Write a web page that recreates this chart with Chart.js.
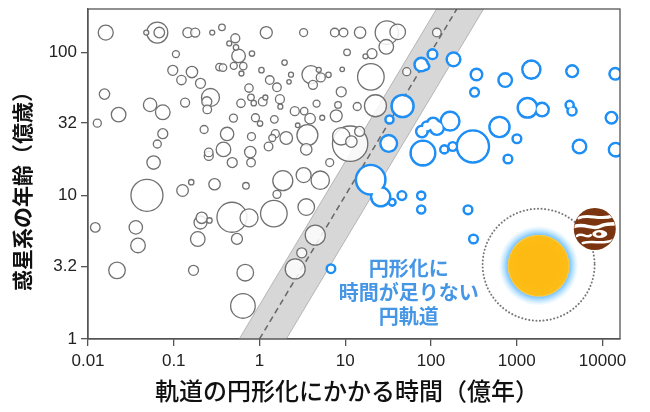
<!DOCTYPE html>
<html><head><meta charset="utf-8">
<script src="https://cdn.jsdelivr.net/npm/chart.js@4"></script>
<style>html,body{margin:0;padding:0;background:#fff}</style>
</head><body>
<canvas id="c" width="650" height="412"></canvas>
<script>
// ---------- data ----------
const xTickValues = [0.01, 0.1, 1, 10, 100, 1000, 10000];
const xTickLabels = ['0.01', '0.1', '1', '10', '100', '1000', '10000'];
const yTickValues = [1, 3.2, 10, 32, 100];
const yTickLabels = ['1', '3.2', '10', '32', '100'];

// gray: systems already circularised (timescale [億年], age [億歳], marker size)
const grayTime = [0.0161,0.0478,0.0643,0.0678,0.146,0.178,0.281,0.365,0.522,0.444,0.532,0.570,0.817,0.106,0.0974,0.163,0.123,0.205,0.341,0.375,
  0.501,0.647,0.616,1.054,1.317,0.01557,0.02275,0.01284,0.0530,0.0745,0.1356,0.268,0.243,0.246,0.754,0.795,0.608,0.857,1.09,0.497,
  0.897,1.015,0.226,0.419,0.806,0.0745,0.0643,0.380,0.256,0.256,0.780,0.0582,0.481,0.797,1.275,1.598,1.96,2.33,2.21,3.98,
  5.18,4.91,4.20,1.73,1.75,1.17,2.58,3.32,4.63,3.89,5.39,1.49,2.79,1.53,1.41,2.05,3.62,3.51,1.20,3.27,
  7.54,9.55,14.9,30.6,40.9,30.1,10.5,20.5,17.2,117,52.1,6.38,9.22,19.9,8.98,8.24,13.8,22.5,7.85,8.98,
  14.7,11.4,11.8,6.59,0.0487,0.1267,0.160,0.299,0.695,1.598,1.87,3.27,5.11,0.01216,0.0361,0.0383,0.0218,0.212,0.205,0.261,
  0.1906,0.170,0.477,0.755,1.47,3.51,0.546,0.682,0.641,4.47,3.11,2.61];
const grayAge = [137,137,137,137,137,137,137,149,125,115,108,94.2,97.8,97,74.7,72.7,63.9,60.6,78.7,78,
  80.3,79.9,71,74.9,63.9,51,36.7,32,42.9,38.1,44.5,48.3,45.1,39.9,56.2,48.4,44,44.1,45.2,34.7,
  34.9,31.8,28.9,26.9,25.8,27,22.9,21,20,18.9,20.1,17,17,17,22,56.9,84.6,69.7,62.1,69.8,
  66.7,75.3,59.2,47,41.7,48.3,38.8,38.8,43.8,34.4,34.9,34,30.9,27,25.2,25.2,26.4,21,137,137,
  137,137,137,137,138.5,109,99.7,97.6,93.5,137,73.1,69.5,75.9,67.3,52.9,42.9,41.8,42.3,36,25.9,
  28,23,23.8,17,10.05,10.85,12.4,12,11.7,10.2,12.7,13.9,12.8,6.0,6.0,4.49,3.01,7.0,6.49,6.71,
  4.98,3.01,7.06,7.0,7.49,8.32,4.99,2.90,1.70,5.30,3.99,3.08];
const graySize = [7.5,2.5,10.5,5.3,5,4.5,2.5,3.3,4.5,2.5,2.7,6.8,2.7,3.5,5,5.7,4.7,5,3.7,3.7,
  3.5,3.7,2.5,2.7,4.3,5.2,7.3,4,6.7,7.3,4.5,9,5,4.3,4.2,3.3,4.2,2.7,4.3,4,
  4,2.7,4,6.7,4,5,4,7.3,4.3,4.5,5.7,6.7,5,4.3,4.3,4.3,2.7,2.5,2.2,9,
  4.5,2.5,4.5,4.5,2.5,2.5,4.5,3.7,3.5,5.3,2.5,3.8,2.3,4,3.5,6.3,10.5,5.7,6,4,
  4.3,4.3,5.7,11.7,7.8,7.3,3.3,5,2.5,4.3,4,2.7,2.3,13.3,5,3.3,4,11,6,8.7,
  5,17.7,5.7,4,16,5.8,2.7,5.7,3.3,4,10,7.5,9.2,4.8,6.7,7.3,8.3,5.7,6.5,2.7,
  7.3,5,15,9,13.3,8.3,5.5,8.3,12.3,10,5,10];

// blue: circular orbits that have not had time to circularise
const blueTime = [104,76.9,86.8,183,339,733,1480,4430,14060,322,46.6,32.8,32.1,1335,1970,4140,4410,12730,167,117,
  106,89.6,78.4,629,1004,308,179,143,789,5390,14250,80.5,19.8,25.9,35.3,45.8,76.9,76.9,270,313,6.81];
const blueAge = [96.8,81.9,79.6,89.1,69.8,63.9,75.6,73.7,70.6,52.6,42.1,33.9,23.1,40.9,39.8,42.9,38.9,34.9,33.0,29.7,
  31.4,30.3,28,30.1,24.9,22,22,21,18,22,20.9,19.8,12.9,9.81,8.98,10,10,8.0,7.96,4.98,3.09];
const blueSize = [4.8,6.7,3.5,6.8,5.7,6.7,9,5.8,5.7,4.3,11,4,8.3,9.7,6.7,4,4.5,5.7,9.3,7,
  6.5,5,5.7,10,4.3,16,4.3,4,4.3,6.7,6.7,12.3,14.7,9.5,3.3,4.3,4,4,4.3,4.3,4.2];

// age = timescale line and the uncertainty band around it
const diagTime = [1, 200];
const diagAge = [1, 200];
const bandTime = [0.58, 116, 410, 2.05];
const bandAge = [1, 200, 200, 1];

const xTitle = '軌道の円形化にかかる時間（億年）';
const yTitle = '惑星系の年齢（億歳）';
const noteLines = ['円形化に', '時間が足りない', '円軌道'];

// ---------- build ----------
const RING = 2.6;
const xy = (xs, ys) => xs.map((x, i) => ({ x, y: ys[i] }));
const grayOrder = grayTime.map((_, i) => i).sort((a, b) => graySize[b] - graySize[a]);
const grayPts = grayOrder.map(i => ({ x: grayTime[i], y: grayAge[i], r: graySize[i] }));
const blueRing = blueTime.map((x, i) => ({ x, y: blueAge[i], r: blueSize[i] }));
const blueFill = blueTime.map((x, i) => ({ x, y: blueAge[i], r: blueSize[i] - RING / 2 }));

const frame = {
  id: 'frame',
  afterDatasetsDraw(chart) {
    const { ctx, chartArea: a } = chart;
    ctx.save();
    ctx.strokeStyle = '#555';
    ctx.lineWidth = 1.3;
    ctx.strokeRect(a.left, a.top, a.right - a.left, a.bottom - a.top);
    ctx.restore();
  }
};

const decor = {
  id: 'decor',
  afterDatasetsDraw(chart) {
    const { ctx, chartArea: a } = chart;
    const w = a.right - a.left, h = a.bottom - a.top;
    ctx.save();
    // note
    ctx.fillStyle = '#4696e6';
    ctx.font = 'bold 20px "Noto Sans CJK JP", sans-serif';
    ctx.textAlign = 'center';
    ctx.textBaseline = 'middle';
    const nx = a.left + 0.603 * w, ny = a.top + 0.786 * h;
    noteLines.forEach((t, i) => ctx.fillText(t, nx, ny + i * 24));
    // orbit
    const sx = a.left + 0.847 * w, sy = a.top + 0.775 * h;
    ctx.setLineDash([0.1, 3.5]);
    ctx.lineCap = 'round';
    ctx.lineWidth = 2;
    ctx.strokeStyle = '#777';
    ctx.beginPath(); ctx.arc(sx, sy, 56, 0, Math.PI * 2); ctx.stroke();
    ctx.setLineDash([]);
    // sun glow
    const g = ctx.createRadialGradient(sx, sy + 1, 28, sx, sy + 1, 40);
    g.addColorStop(0, 'rgba(40,160,255,0.95)');
    g.addColorStop(0.45, 'rgba(90,185,255,0.55)');
    g.addColorStop(1, 'rgba(150,215,255,0)');
    ctx.fillStyle = g;
    ctx.beginPath(); ctx.arc(sx, sy + 1, 40, 0, Math.PI * 2); ctx.fill();
    const sg = ctx.createRadialGradient(sx, sy + 1, 20, sx, sy + 1, 31);
    sg.addColorStop(0, '#FDBA12');
    sg.addColorStop(0.85, '#FDBD18');
    sg.addColorStop(1, '#FFD35A');
    ctx.fillStyle = sg;
    ctx.beginPath(); ctx.arc(sx, sy + 1, 31, 0, Math.PI * 2); ctx.fill();
    // planet
    const px = a.left + 0.9526 * w, py = a.top + 0.6667 * h, pr = 21;
    ctx.fillStyle = '#7a3410';
    ctx.beginPath(); ctx.arc(px, py, pr, 0, Math.PI * 2); ctx.fill();
    ctx.save();
    ctx.beginPath(); ctx.arc(px, py, pr - 0.5, 0, Math.PI * 2); ctx.clip();
    ctx.strokeStyle = '#fff';
    ctx.lineCap = 'round';
    ctx.lineWidth = 3;
    ctx.beginPath(); ctx.moveTo(px - 16, py - 11); ctx.bezierCurveTo(px - 6, py - 16, px + 4, py - 8, px + 18, py - 13); ctx.stroke();
    ctx.lineWidth = 3.5;
    ctx.beginPath(); ctx.moveTo(px - 22, py - 2); ctx.bezierCurveTo(px - 10, py - 7, px - 2, py + 2, px + 6, py - 3); ctx.bezierCurveTo(px + 12, py - 6, px + 18, py - 4, px + 22, py - 6); ctx.stroke();
    ctx.lineWidth = 2.5;
    ctx.beginPath(); ctx.moveTo(px - 18, py + 7); ctx.bezierCurveTo(px - 12, py + 3, px - 8, py + 10, px - 4, py + 6); ctx.stroke();
    ctx.beginPath(); ctx.moveTo(px - 12, py + 14); ctx.bezierCurveTo(px - 2, py + 11, px + 8, py + 16, px + 18, py + 11); ctx.stroke();
    ctx.fillStyle = '#fff';
    ctx.beginPath(); ctx.ellipse(px + 5, py + 5, 7.5, 4, 0, 0, Math.PI * 2); ctx.fill();
    ctx.fillStyle = '#7a3410';
    ctx.beginPath(); ctx.ellipse(px + 4, py + 5, 2.8, 1.8, 0, 0, Math.PI * 2); ctx.fill();
    ctx.restore();
    ctx.restore();
  }
};

// axis titles drawn as text, positioned beside the axes
const titles = {
  id: 'titles',
  afterDraw(chart) {
    const { ctx, chartArea: a } = chart;
    ctx.save();
    ctx.fillStyle = '#111';
    ctx.textAlign = 'center';
    ctx.textBaseline = 'middle';
    ctx.font = '500 24px "Noto Sans CJK JP", sans-serif';
    ctx.fillText(xTitle, a.left + 0.487 * (a.right - a.left), a.bottom + 52);
    ctx.font = 'bold 21px "Noto Sans CJK JP", sans-serif';
    ctx.translate(a.left - 66, a.top + 0.536 * (a.bottom - a.top));
    ctx.rotate(-Math.PI / 2);
    ctx.fillText(yTitle, 0, 0);
    ctx.restore();
  }
};

const tickFont = { family: '"Liberation Sans", Arial, sans-serif', size: 17 };

new Chart(document.getElementById('c'), {
  type: 'bubble',
  data: {
    datasets: [
      { type: 'bubble', data: blueFill, backgroundColor: '#fff', borderWidth: 0, order: 0, clip: 0 },
      { type: 'bubble', data: blueRing, backgroundColor: 'rgba(0,0,0,0)', borderColor: '#1f8ff5', borderWidth: RING, order: 1, clip: 0 },
      { type: 'bubble', data: grayPts, backgroundColor: 'rgba(255,255,255,0.85)', borderColor: '#707070', borderWidth: 1.3, order: 2, clip: 0 },
      { type: 'line', data: xy(diagTime, diagAge), borderColor: '#666', borderDash: [6, 4], borderWidth: 1.5, pointRadius: 0, fill: false, order: 3 },
      { type: 'line', data: xy(bandTime, bandAge), borderColor: 'rgba(175,175,175,0.9)', borderWidth: 1, backgroundColor: 'rgba(205,205,205,0.8)', pointRadius: 0, fill: 'shape', order: 4 }
    ]
  },
  options: {
    responsive: false,
    animation: false,
    events: [],
    layout: { autoPadding: false, padding: { left: 0, right: 30, top: 9, bottom: 0 } },
    plugins: { legend: { display: false }, tooltip: { enabled: false } },
    scales: {
      x: {
        type: 'logarithmic', min: 0.01, max: 16000,
        afterBuildTicks(s) { s.ticks = xTickValues.map(v => ({ value: v })); },
        afterFit(s) { s.height = 73; s.paddingLeft = 0; s.paddingRight = 0; },
        ticks: { font: tickFont, color: '#222', padding: 5, autoSkip: false, maxRotation: 0,
          callback: (v, i) => xTickLabels[i] },
        grid: { drawOnChartArea: false, drawTicks: true, tickLength: 7, color: '#555', lineWidth: 1.3 },
        border: { display: true, color: '#555', width: 1.3 },
        title: { display: false }
      },
      y: {
        type: 'logarithmic', min: 1, max: 200,
        afterBuildTicks(s) { s.ticks = yTickValues.map(v => ({ value: v })); },
        afterFit(s) { s.width = 88; s.paddingTop = 0; s.paddingBottom = 0; },
        ticks: { font: tickFont, color: '#222', padding: 4, autoSkip: false,
          callback: (v, i) => yTickLabels[i] },
        grid: { drawOnChartArea: false, drawTicks: true, tickLength: 7, color: '#555', lineWidth: 1.3 },
        border: { display: true, color: '#555', width: 1.3 },
        title: { display: false }
      }
    }
  },
  plugins: [frame, decor, titles]
});
</script>
</body></html>
